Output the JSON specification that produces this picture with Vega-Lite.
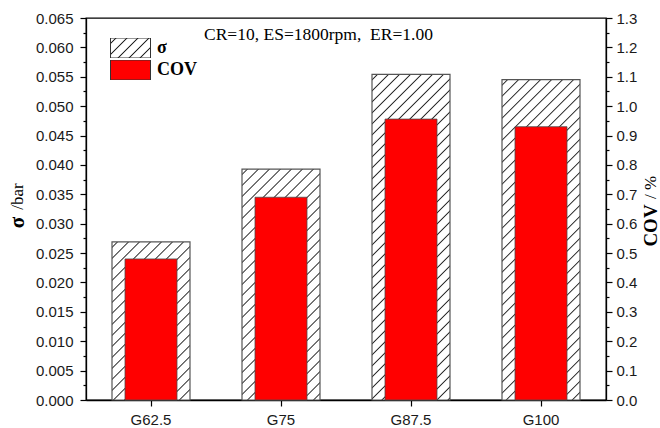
{
  "$schema": "https://vega.github.io/schema/vega-lite/v6.json",
  "width": 520,
  "height": 382,
  "autosize": {"type": "none"},
  "padding": {"left": 86, "top": 18, "right": 54, "bottom": 28},
  "background": "white",
  "params": [
    {
      "name": "hatch",
      "value": [
        {"offset": 0, "color": "#fff"},
        {"offset": 0.0095, "color": "#fff"}, {"offset": 0.0125, "color": "#222"}, {"offset": 0.0155, "color": "#fff"},
        {"offset": 0.0345, "color": "#fff"}, {"offset": 0.0375, "color": "#222"}, {"offset": 0.0405, "color": "#fff"},
        {"offset": 0.0595, "color": "#fff"}, {"offset": 0.0625, "color": "#222"}, {"offset": 0.0655, "color": "#fff"},
        {"offset": 0.0845, "color": "#fff"}, {"offset": 0.0875, "color": "#222"}, {"offset": 0.0905, "color": "#fff"},
        {"offset": 0.1095, "color": "#fff"}, {"offset": 0.1125, "color": "#222"}, {"offset": 0.1155, "color": "#fff"},
        {"offset": 0.1345, "color": "#fff"}, {"offset": 0.1375, "color": "#222"}, {"offset": 0.1405, "color": "#fff"},
        {"offset": 0.1595, "color": "#fff"}, {"offset": 0.1625, "color": "#222"}, {"offset": 0.1655, "color": "#fff"},
        {"offset": 0.1845, "color": "#fff"}, {"offset": 0.1875, "color": "#222"}, {"offset": 0.1905, "color": "#fff"},
        {"offset": 0.2095, "color": "#fff"}, {"offset": 0.2125, "color": "#222"}, {"offset": 0.2155, "color": "#fff"},
        {"offset": 0.2345, "color": "#fff"}, {"offset": 0.2375, "color": "#222"}, {"offset": 0.2405, "color": "#fff"},
        {"offset": 0.2595, "color": "#fff"}, {"offset": 0.2625, "color": "#222"}, {"offset": 0.2655, "color": "#fff"},
        {"offset": 0.2845, "color": "#fff"}, {"offset": 0.2875, "color": "#222"}, {"offset": 0.2905, "color": "#fff"},
        {"offset": 0.3095, "color": "#fff"}, {"offset": 0.3125, "color": "#222"}, {"offset": 0.3155, "color": "#fff"},
        {"offset": 0.3345, "color": "#fff"}, {"offset": 0.3375, "color": "#222"}, {"offset": 0.3405, "color": "#fff"},
        {"offset": 0.3595, "color": "#fff"}, {"offset": 0.3625, "color": "#222"}, {"offset": 0.3655, "color": "#fff"},
        {"offset": 0.3845, "color": "#fff"}, {"offset": 0.3875, "color": "#222"}, {"offset": 0.3905, "color": "#fff"},
        {"offset": 0.4095, "color": "#fff"}, {"offset": 0.4125, "color": "#222"}, {"offset": 0.4155, "color": "#fff"},
        {"offset": 0.4345, "color": "#fff"}, {"offset": 0.4375, "color": "#222"}, {"offset": 0.4405, "color": "#fff"},
        {"offset": 0.4595, "color": "#fff"}, {"offset": 0.4625, "color": "#222"}, {"offset": 0.4655, "color": "#fff"},
        {"offset": 0.4845, "color": "#fff"}, {"offset": 0.4875, "color": "#222"}, {"offset": 0.4905, "color": "#fff"},
        {"offset": 0.5095, "color": "#fff"}, {"offset": 0.5125, "color": "#222"}, {"offset": 0.5155, "color": "#fff"},
        {"offset": 0.5345, "color": "#fff"}, {"offset": 0.5375, "color": "#222"}, {"offset": 0.5405, "color": "#fff"},
        {"offset": 0.5595, "color": "#fff"}, {"offset": 0.5625, "color": "#222"}, {"offset": 0.5655, "color": "#fff"},
        {"offset": 0.5845, "color": "#fff"}, {"offset": 0.5875, "color": "#222"}, {"offset": 0.5905, "color": "#fff"},
        {"offset": 0.6095, "color": "#fff"}, {"offset": 0.6125, "color": "#222"}, {"offset": 0.6155, "color": "#fff"},
        {"offset": 0.6345, "color": "#fff"}, {"offset": 0.6375, "color": "#222"}, {"offset": 0.6405, "color": "#fff"},
        {"offset": 0.6595, "color": "#fff"}, {"offset": 0.6625, "color": "#222"}, {"offset": 0.6655, "color": "#fff"},
        {"offset": 0.6845, "color": "#fff"}, {"offset": 0.6875, "color": "#222"}, {"offset": 0.6905, "color": "#fff"},
        {"offset": 0.7095, "color": "#fff"}, {"offset": 0.7125, "color": "#222"}, {"offset": 0.7155, "color": "#fff"},
        {"offset": 0.7345, "color": "#fff"}, {"offset": 0.7375, "color": "#222"}, {"offset": 0.7405, "color": "#fff"},
        {"offset": 0.7595, "color": "#fff"}, {"offset": 0.7625, "color": "#222"}, {"offset": 0.7655, "color": "#fff"},
        {"offset": 0.7845, "color": "#fff"}, {"offset": 0.7875, "color": "#222"}, {"offset": 0.7905, "color": "#fff"},
        {"offset": 0.8095, "color": "#fff"}, {"offset": 0.8125, "color": "#222"}, {"offset": 0.8155, "color": "#fff"},
        {"offset": 0.8345, "color": "#fff"}, {"offset": 0.8375, "color": "#222"}, {"offset": 0.8405, "color": "#fff"},
        {"offset": 0.8595, "color": "#fff"}, {"offset": 0.8625, "color": "#222"}, {"offset": 0.8655, "color": "#fff"},
        {"offset": 0.8845, "color": "#fff"}, {"offset": 0.8875, "color": "#222"}, {"offset": 0.8905, "color": "#fff"},
        {"offset": 0.9095, "color": "#fff"}, {"offset": 0.9125, "color": "#222"}, {"offset": 0.9155, "color": "#fff"},
        {"offset": 1, "color": "#fff"}
      ]
    }
  ],
  "title": {
    "text": "CR=10, ES=1800rpm,\u00a0 ER=1.00",
    "anchor": "start",
    "frame": "group",
    "offset": -46,
    "dx": 118,
    "baseline": "alphabetic",
    "font": "Liberation Serif",
    "fontSize": 17.5,
    "fontWeight": "normal",
    "color": "black"
  },
  "data": {
    "values": [
      {"g": "G62.5", "sigma": 0.0269, "cov": 0.48},
      {"g": "G75", "sigma": 0.0393, "cov": 0.69},
      {"g": "G87.5", "sigma": 0.0554, "cov": 0.956},
      {"g": "G100", "sigma": 0.0545, "cov": 0.93}
    ]
  },
  "encoding": {
    "x": {
      "field": "g",
      "type": "nominal",
      "sort": ["G62.5", "G75", "G87.5", "G100"],
      "scale": {"paddingInner": 0, "paddingOuter": 0},
      "axis": {"title": null, "labelAngle": 0, "tickSize": 6, "labelPadding": 6}
    }
  },
  "layer": [
    {
      "mark": {"type": "bar", "width": {"band": 0.6}, "stroke": "#555555", "strokeWidth": 1.2},
      "encoding": {
        "y": {
          "field": "sigma",
          "type": "quantitative",
          "scale": {"domain": [0, 0.065], "nice": false},
          "axis": {
            "orient": "left",
            "values": [0, 0.0025, 0.005, 0.0075, 0.01, 0.0125, 0.015, 0.0175, 0.02, 0.0225, 0.025, 0.0275, 0.03, 0.0325, 0.035, 0.0375, 0.04, 0.0425, 0.045, 0.0475, 0.05, 0.0525, 0.055, 0.0575, 0.06, 0.0625, 0.065],
            "labelExpr": "round(datum.value * 400) % 2 == 0 ? format(datum.value, '.3f') : ''",
            "labelOverlap": false,
            "tickSize": {"condition": {"test": "round(datum.value * 400) % 2 == 1", "value": 3}, "value": 6},
            "labelPadding": 7,
            "title": "σ",
            "titleFont": "Liberation Serif",
            "titleFontSize": 21,
            "titleFontWeight": "bold",
            "titleColor": "black",
            "titleAngle": -90,
            "titleAlign": "center",
            "titleBaseline": "middle",
            "titleX": -69,
            "titleY": 204
          }
        },
        "fill": {
          "value": {"expr": "{gradient: 'linear', x1: 0, y1: 0, x2: 34320 / (6084 + pow(datum.sigma * 5876.923, 2)), y2: 440 * datum.sigma * 5876.923 / (6084 + pow(datum.sigma * 5876.923, 2)), stops: hatch}"}
        }
      }
    },
    {
      "mark": {"type": "bar", "width": {"band": 0.4}, "stroke": "#4d4d4d", "strokeWidth": 0.8},
      "encoding": {
        "y": {
          "field": "cov",
          "type": "quantitative",
          "scale": {"domain": [0, 1.3], "nice": false},
          "axis": {
            "orient": "right",
            "values": [0, 0.05, 0.1, 0.15, 0.2, 0.25, 0.3, 0.35, 0.4, 0.45, 0.5, 0.55, 0.6, 0.65, 0.7, 0.75, 0.8, 0.85, 0.9, 0.95, 1, 1.05, 1.1, 1.15, 1.2, 1.25, 1.3],
            "labelExpr": "round(datum.value * 20) % 2 == 0 ? format(datum.value, '.1f') : ''",
            "labelOverlap": false,
            "tickSize": {"condition": {"test": "round(datum.value * 20) % 2 == 1", "value": 3}, "value": 6},
            "labelPadding": 4,
            "title": "COV",
            "titleFont": "Liberation Serif",
            "titleFontSize": 19,
            "titleFontWeight": "bold",
            "titleColor": "black",
            "titleAngle": -90,
            "titleAlign": "center",
            "titleBaseline": "middle",
            "titleX": 44,
            "titleY": 207
          }
        },
        "fill": {
          "datum": "COV",
          "type": "nominal",
          "scale": {
            "domain": ["σ", "COV"],
            "range": [{"expr": "{gradient: 'linear', x1: 0, y1: 0, x2: 8.8, y2: 4.4, stops: hatch}"}, "#ff0000"]
          },
          "legend": {
            "orient": "none",
            "legendX": 24,
            "legendY": 20,
            "title": null,
            "padding": 0,
            "symbolType": "M-2,-1H2V1H-2Z",
            "symbolSize": 400,
            "symbolStrokeColor": "#333333",
            "symbolStrokeWidth": 1,
            "symbolOffset": 10,
            "symbolOpacity": 1,
            "clipHeight": 20,
            "rowPadding": 2,
            "labelOffset": 16,
            "labelFont": "Liberation Serif",
            "labelFontWeight": "bold",
            "labelFontSize": 18,
            "labelColor": "black"
          }
        }
      }
    },
    {
      "mark": {"type": "bar", "opacity": 0},
      "encoding": {
        "y": {
          "field": "sigma",
          "type": "quantitative",
          "scale": {"domain": [0, 0.065], "nice": false},
          "axis": {
            "orient": "left",
            "labels": false,
            "ticks": false,
            "domain": false,
            "title": "/bar",
            "titleFont": "Liberation Serif",
            "titleFontSize": 17,
            "titleFontWeight": "normal",
            "titleColor": "black",
            "titleAngle": -90,
            "titleAlign": "center",
            "titleBaseline": "middle",
            "titleX": -69,
            "titleY": 178
          }
        }
      }
    },
    {
      "mark": {"type": "bar", "opacity": 0},
      "encoding": {
        "y": {
          "field": "cov",
          "type": "quantitative",
          "scale": {"domain": [0, 1.3], "nice": false},
          "axis": {
            "orient": "right",
            "labels": false,
            "ticks": false,
            "domain": false,
            "title": "/ %",
            "titleFont": "Liberation Serif",
            "titleFontSize": 17,
            "titleFontWeight": "normal",
            "titleColor": "black",
            "titleAngle": -90,
            "titleAlign": "center",
            "titleBaseline": "middle",
            "titleX": 44,
            "titleY": 169
          }
        }
      }
    }
  ],
  "resolve": {"scale": {"y": "independent"}},
  "config": {
    "view": {"stroke": "black", "strokeWidth": 1.3},
    "axis": {
      "labelFont": "Liberation Sans",
      "labelFontSize": 15,
      "labelColor": "#1a1a1a",
      "domainColor": "black",
      "domainWidth": 1.3,
      "tickColor": "black",
      "tickWidth": 1.2,
      "grid": false
    }
  }
}
